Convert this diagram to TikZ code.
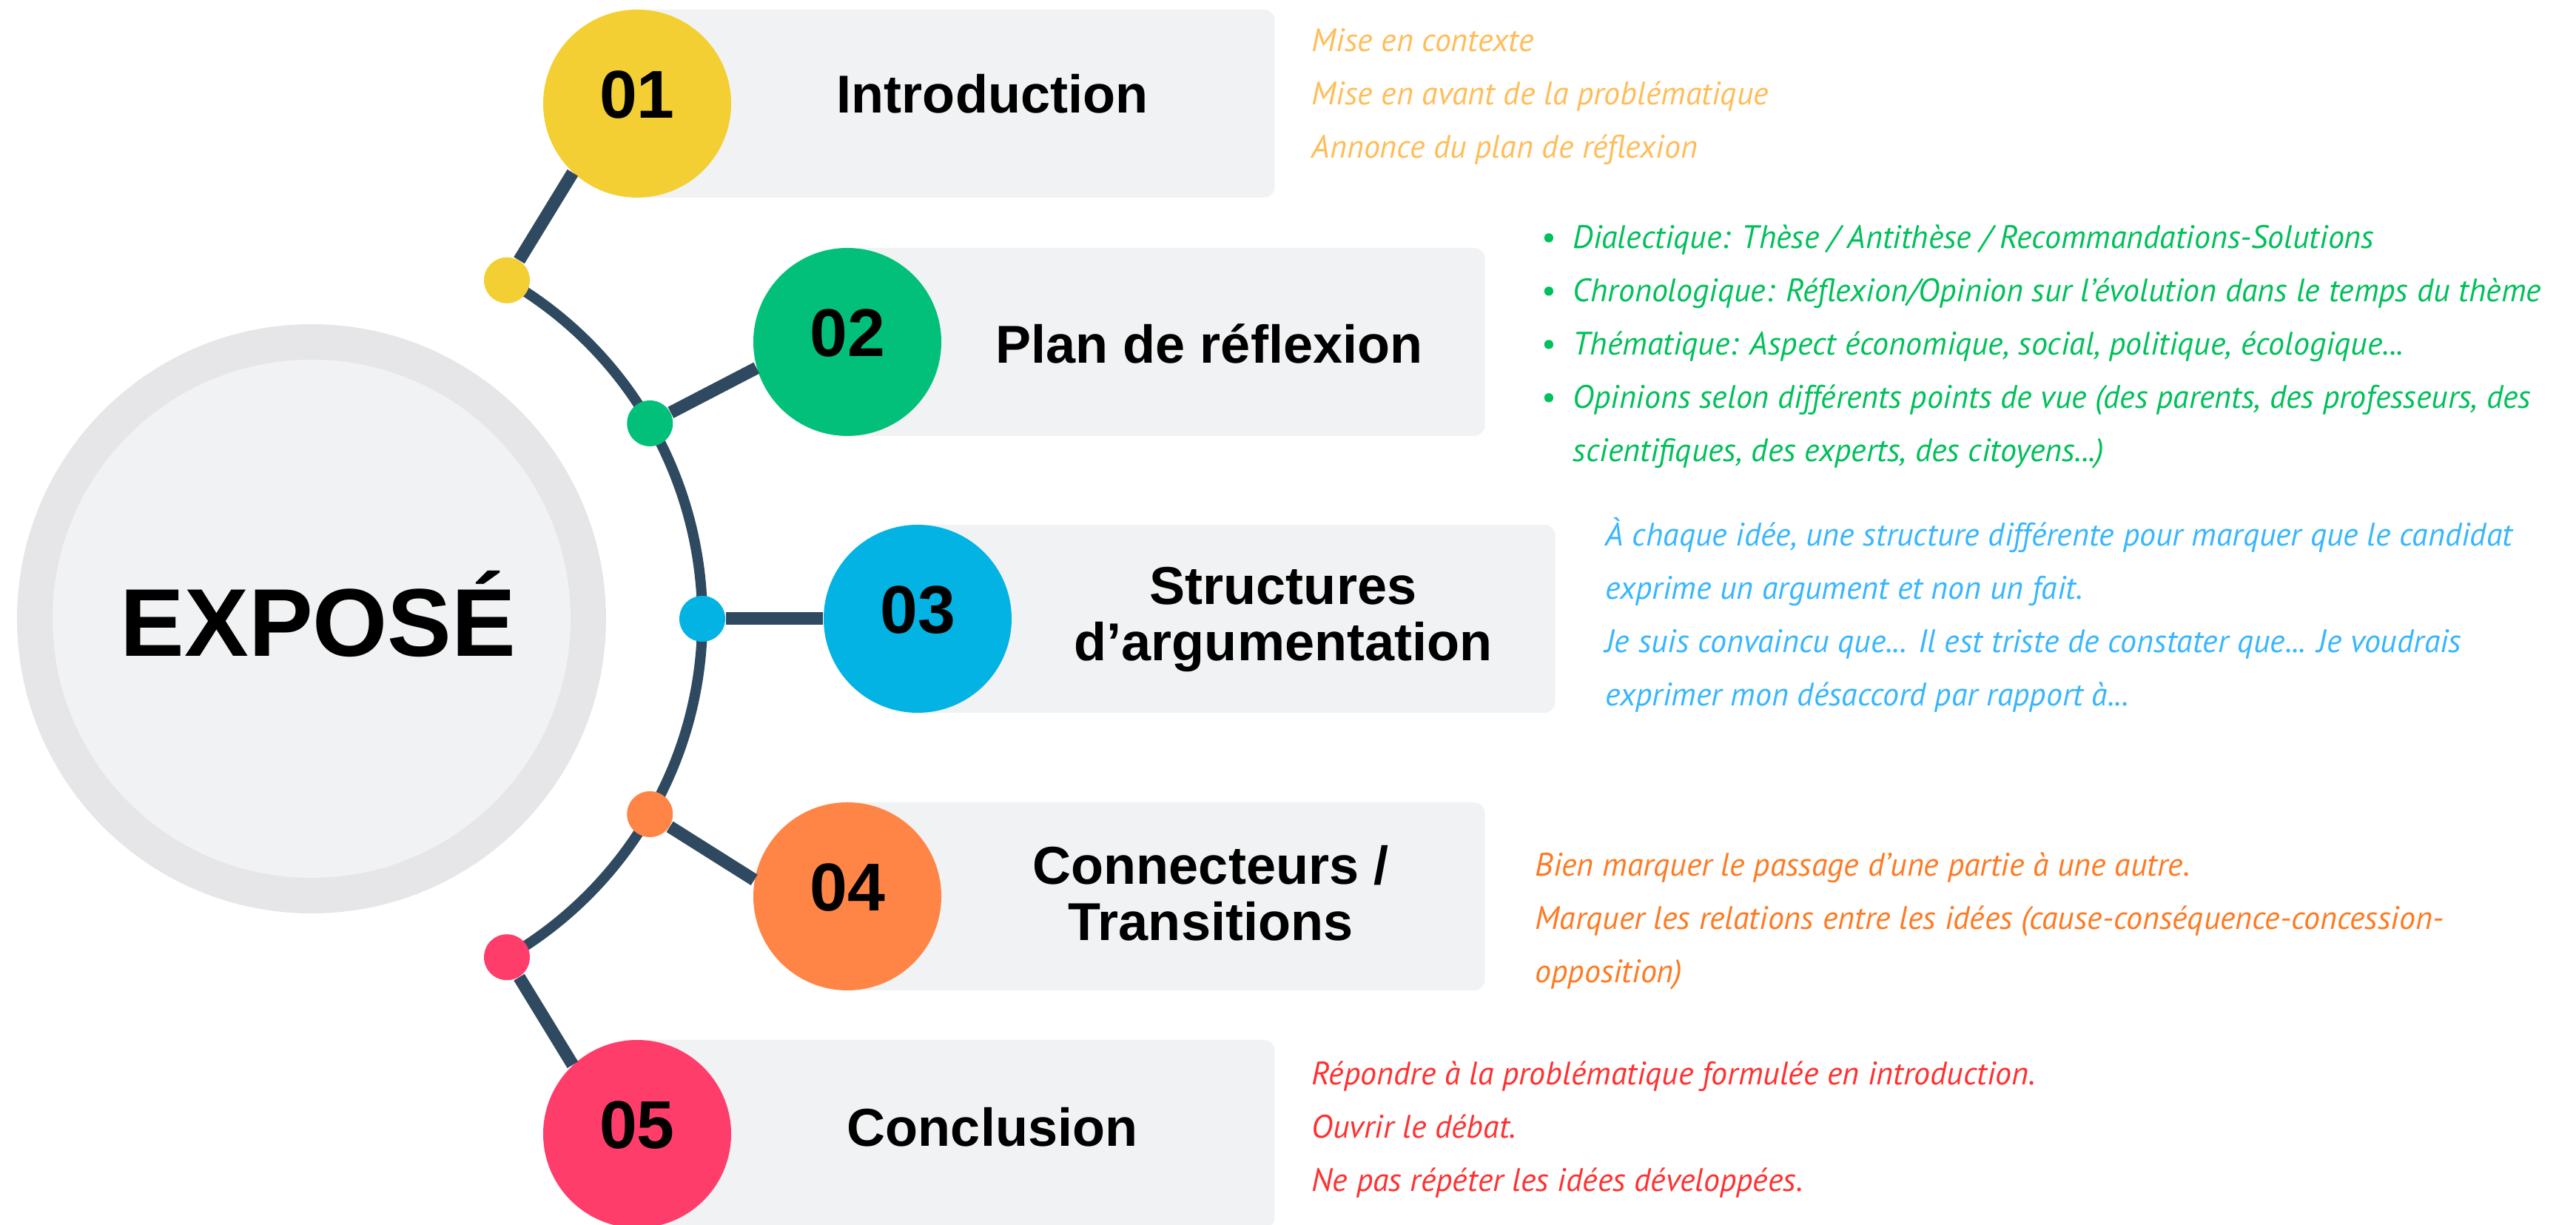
\documentclass[tikz,border=0pt]{standalone}
\usepackage{fontspec}
\setmainfont{Liberation Sans}
\newfontfamily\handfont{PT Sans}

\definecolor{lineBlue}{HTML}{2F4A60}
\definecolor{boxGray}{HTML}{F1F2F4}
\definecolor{ringGray}{HTML}{E6E6E8}
\definecolor{yellowNum}{HTML}{F4CF33}
\definecolor{greenNum}{HTML}{02C07A}
\definecolor{blueNum}{HTML}{02B3E4}
\definecolor{orangeNum}{HTML}{FF8547}
\definecolor{pinkNum}{HTML}{FF3D6B}
\definecolor{yellowText}{HTML}{FFBD59}
\definecolor{greenText}{HTML}{00C05A}
\definecolor{blueText}{HTML}{38B6FF}
\definecolor{orangeText}{HTML}{FF7A22}
\definecolor{redText}{HTML}{FF3131}

\begin{document}
\begin{tikzpicture}[
	numCircle/.style={circle, minimum size=2.54cm, inner sep=0pt, text depth=0.25cm, font=\fontsize{26}{26}\selectfont\bfseries},
	dotCircle/.style={circle, minimum size=0.62cm, inner sep=0pt},
	stepBox/.style={rectangle, fill=boxGray, rounded corners=0.15cm, minimum width=8.61cm, minimum height=2.54cm, anchor=west},
	titleText/.style={font=\fontsize{20.5}{21.5}\selectfont\bfseries, align=center},
	descText/.style={font=\handfont\itshape\fontsize{12.5}{20.5}\selectfont, align=left, anchor=base west, inner sep=0pt},
	spoke/.style={line width=1.7mm, draw=lineBlue}
]
	\useasboundingbox (0,0) rectangle (34.81,16.55);

	% centre circle
	\node[circle, fill=ringGray, minimum size=7.96cm, inner sep=0pt](outerRing) at (4.21,8.19){};
	\node[circle, fill=boxGray, minimum size=7.0cm, inner sep=0pt](expose) at (4.21,8.19){};
	\node[font=\fontsize{37}{37}\selectfont\bfseries](exposeLabel) at (4.30,8.25){EXPOSÉ};

	% grey boxes
	\node[stepBox](box1) at (8.61,15.15){};
	\node[stepBox](box2) at (11.45,11.93){};
	\node[stepBox](box3) at (12.40,8.19){};
	\node[stepBox](box4) at (11.45,4.44){};
	\node[stepBox](box5) at (8.61,1.23){};

	% arc and dots
	\draw[line width=1.4mm, lineBlue] ([shift={(60:5.28)}]expose.center) arc[start angle=60, end angle=-60, radius=5.28];
	\node[dotCircle, fill=yellowNum](dot1) at ([shift={(60:5.28)}]expose.center){};
	\node[dotCircle, fill=greenNum](dot2) at ([shift={(30:5.28)}]expose.center){};
	\node[dotCircle, fill=blueNum](dot3) at ([shift={(0:5.28)}]expose.center){};
	\node[dotCircle, fill=orangeNum](dot4) at ([shift={(-30:5.28)}]expose.center){};
	\node[dotCircle, fill=pinkNum](dot5) at ([shift={(-60:5.28)}]expose.center){};

	% numbered circles
	\node[numCircle, fill=yellowNum](num1) at (8.61,15.15){01};
	\node[numCircle, fill=greenNum](num2) at (11.45,11.93){02};
	\node[numCircle, fill=blueNum](num3) at (12.40,8.19){03};
	\node[numCircle, fill=orangeNum](num4) at (11.45,4.44){04};
	\node[numCircle, fill=pinkNum](num5) at (8.61,1.23){05};

	\draw[spoke] (dot1) -- (num1.227);
	\draw[spoke] (dot2) -- (num2.196);
	\draw[spoke] (dot3) -- (num3.180);
	\draw[spoke] (dot4) -- (num4.170);
	\draw[spoke] (dot5) -- (num5.133);

	% titles
	\node[titleText](title1) at (13.41,15.28){Introduction};
	\node[titleText](title2) at (16.34,11.91){Plan de réflexion};
	\node[titleText](title3) at (17.34,8.18){Structures\\d’argumentation};
	\node[titleText](title4) at (16.36,4.48){Connecteurs /\\Transitions};
	\node[titleText](title5) at (13.41,1.32){Conclusion};

	% descriptions (anchored at the baseline of their last line)
	\node[descText, text=yellowText](desc1) at (17.72,14.41){Mise en contexte\\Mise en avant de la problématique\\Annonce du plan de réflexion};
	\node[descText, text=greenText](desc2) at (20.83,10.31){%
		\makebox[0.42cm][l]{\upshape•}Dialectique: Thèse / Antithèse / Recommandations-Solutions\\
		\makebox[0.42cm][l]{\upshape•}Chronologique: Réflexion/Opinion sur l’évolution dans le temps du thème\\
		\makebox[0.42cm][l]{\upshape•}Thématique: Aspect économique, social, politique, écologique...\\
		\makebox[0.42cm][l]{\upshape•}Opinions selon différents points de vue (des parents, des professeurs, des\\
		\hspace*{0.42cm}scientifiques, des experts, des citoyens...)};
	\node[descText, text=blueText](desc3) at (21.69,7.01){À chaque idée, une structure différente pour marquer que le candidat\\exprime un argument et non un fait.\\Je suis convaincu que... Il est triste de constater que... Je voudrais\\exprimer mon désaccord par rapport à...};
	\node[descText, text=orangeText](desc4) at (20.74,3.27){Bien marquer le passage d’une partie à une autre.\\Marquer les relations entre les idées (cause-conséquence-concession-\\opposition)};
	\node[descText, text=redText](desc5) at (17.72,0.45){Répondre à la problématique formulée en introduction.\\Ouvrir le débat.\\Ne pas répéter les idées développées.};
\end{tikzpicture}
\end{document}
